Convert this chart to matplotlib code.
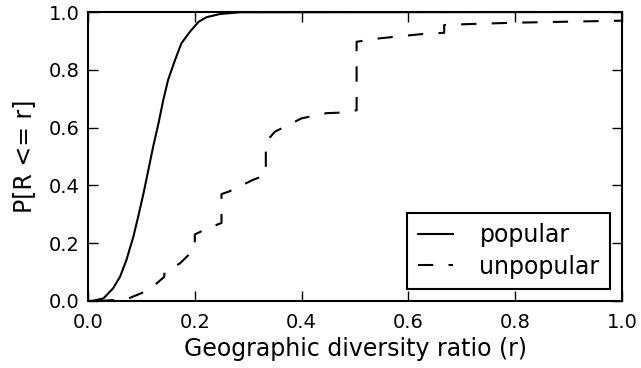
import matplotlib
matplotlib.use('Agg')
from matplotlib import pyplot as plt

# popular: smooth CDF
pop_x = [0.0, 0.010, 0.029, 0.047, 0.060, 0.072, 0.085, 0.094, 0.104, 0.113, 0.122, 0.132,
         0.141, 0.150, 0.163, 0.175, 0.191, 0.207, 0.222, 0.247, 0.285, 1.0]
pop_y = [0.0, 0.001, 0.009, 0.044, 0.084, 0.142, 0.223, 0.292, 0.373, 0.453, 0.534, 0.615,
         0.696, 0.765, 0.834, 0.892, 0.932, 0.966, 0.982, 0.993, 0.999, 1.0]

# unpopular: step-like CDF
unpop_x = [0.02, 0.072, 0.10, 0.122, 0.143, 0.143, 0.172, 0.20, 0.20, 0.222, 0.25, 0.25, 0.263,
           0.31, 0.333, 0.333, 0.35, 0.40, 0.447, 0.475, 0.503, 0.503, 0.547, 0.622, 0.667, 0.667,
           0.71, 0.80, 1.0]
unpop_y = [0.0, 0.006, 0.027, 0.05, 0.084, 0.10, 0.13, 0.18, 0.23, 0.25, 0.27, 0.37, 0.378,
           0.42, 0.436, 0.55, 0.586, 0.632, 0.65, 0.652, 0.66, 0.897, 0.909, 0.923, 0.928, 0.955,
           0.958, 0.963, 0.97]

plt.rcParams['font.size'] = 14
plt.rcParams['lines.scale_dashes'] = False

fig = plt.figure(figsize=(6.41, 3.68), dpi=100)
ax = fig.add_axes([88/641, 1-301/368, (622-88)/641, (301-12)/368])

ax.plot(pop_x, pop_y, color='black', lw=1.5, label='popular')
ax.plot(unpop_x, unpop_y, color='black', lw=1.5, dashes=(11, 11), label='unpopular')

ax.set_xlim(0, 1.0)
ax.set_ylim(0, 1.0)
ax.set_xticks([0.0, 0.2, 0.4, 0.6, 0.8, 1.0])
ax.set_yticks([0.0, 0.2, 0.4, 0.6, 0.8, 1.0])
ax.tick_params(direction='in', top=True, right=True, length=7, width=1, labelsize=14)
ax.tick_params(axis='x', pad=9)
ax.tick_params(axis='y', pad=6)
for s in ax.spines.values():
    s.set_linewidth(1.5)

ax.set_xlabel('Geographic diversity ratio (r)', fontsize=17, labelpad=3)
ax.set_ylabel('P[R <= r]', fontsize=17, labelpad=9)

leg = ax.legend(loc='lower right', fancybox=False, fontsize=17, handlelength=1.5,
                handletextpad=1.1, borderpad=0.45, labelspacing=0.3, borderaxespad=0.5)
leg.get_frame().set_edgecolor('black')
leg.get_frame().set_linewidth(1.5)
leg.get_frame().set_alpha(1)

fig.savefig('out.png', dpi=100)
